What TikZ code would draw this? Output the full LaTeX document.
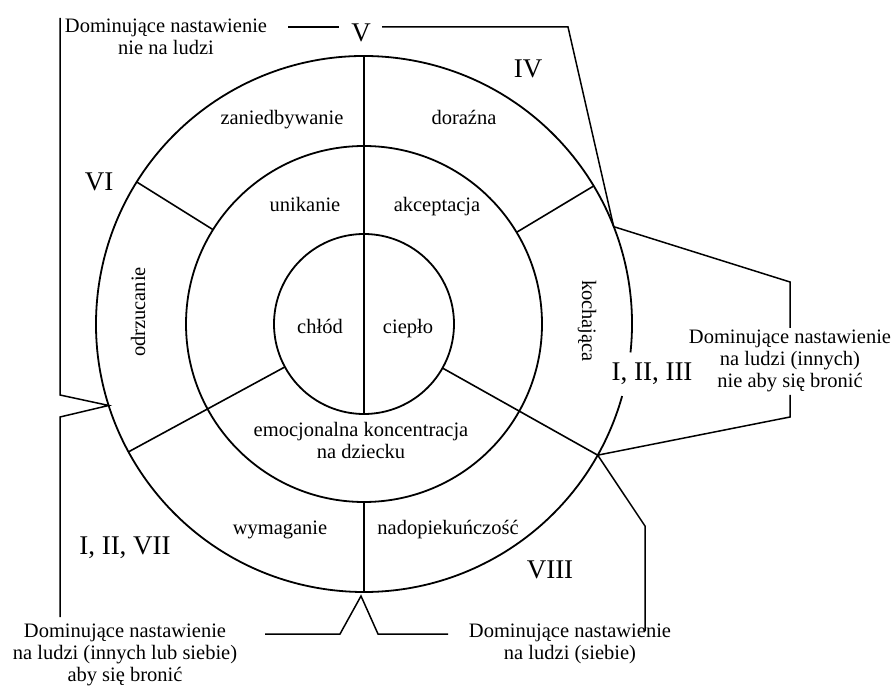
\documentclass[tikz,border=0pt]{standalone}
\usepackage{fontspec}
\setmainfont{Liberation Serif}
\usetikzlibrary{calc}
\begin{document}
\begin{tikzpicture}[x=1pt,y=1pt,
  ring/.style={line width=1.8pt},
  divider/.style={line width=1.6pt},
  bracket/.style={line width=1.5pt, line join=miter},
  lbl/.style={font=\fontsize{20.5}{22}\selectfont, inner sep=0pt, anchor=base},
  num/.style={font=\fontsize{27}{30}\selectfont, inner sep=0pt},
  note/.style={font=\fontsize{20.5}{22}\selectfont, align=center, inner sep=0pt}]
\useasboundingbox (0,0) rectangle (893,688);
\coordinate (C) at (364,364);
\def\rOut{268}
\def\rMid{178}
\def\rIn{90}

% rings (outer ring left open where the label I, II, III sits)
\draw[ring] ($(C)+(-6.1:\rOut)$) arc[start angle=-6.1, end angle=344.4, radius=\rOut];
\draw[ring] (C) circle[radius=\rMid];
\draw[ring] (C) circle[radius=\rIn];

% sector dividers
\draw[divider] ($(C)+(90:\rOut)$) -- ($(C)+(270:\rIn)$);
\draw[divider] ($(C)+(270:\rMid)$) -- ($(C)+(270:\rOut)$);
\draw[divider] ($(C)+(148:\rMid)$) -- ($(C)+(148:\rOut)$);
\draw[divider] ($(C)+(31:\rMid)$) -- ($(C)+(31:\rOut)$);
\draw[divider] ($(C)+(208.5:\rIn)$) -- ($(C)+(208.5:\rOut)$);
\draw[divider] ($(C)+(-29.3:\rIn)$) -- ($(C)+(-29.3:\rOut)$);

% points on the outer ring where the brackets meet it
\coordinate (pL) at ($(C)+(197.7:\rOut)$);
\coordinate (pR) at ($(C)+(21.3:\rOut)$);
\coordinate (pB) at ($(C)+(-29.3:\rOut)$);

% bracket corners
\coordinate (tlTop) at (60,670);
\coordinate (tlBot) at (60,293);
\coordinate (blTop) at (60,271);
\coordinate (blBot) at (60,71);
\coordinate (topA) at (288,661);
\coordinate (topB) at (339,661);
\coordinate (topC) at (382,661);
\coordinate (topD) at (568,661);
\coordinate (rA) at (790,406);
\coordinate (rB) at (790,360);
\coordinate (rC) at (790,293);
\coordinate (rD) at (790,271);
\coordinate (brA) at (645,162);
\coordinate (brB) at (645,57);
\coordinate (bA) at (265,54);
\coordinate (bB) at (340,54);
\coordinate (apex) at (361,92);
\coordinate (bC) at (378,54);
\coordinate (bD) at (448,54);

% brackets
\draw[bracket] (tlTop) -- (tlBot) -- (pL) -- (blTop) -- (blBot);
\draw[bracket] (topA) -- (topB);
\draw[bracket] (topC) -- (topD) -- (pR) -- (rA) -- (rB);
\draw[bracket] (rC) -- (rD) -- (pB) -- (brA) -- (brB);
\draw[bracket] (bA) -- (bB) -- (apex) -- (bC) -- (bD);

% inner circle
\node[lbl] (chlod) at (320,354) {chłód};
\node[lbl] (cieplo) at (408,354) {ciepło};

% middle ring
\node[lbl] (unik) at (305,476) {unikanie};
\node[lbl] (akc) at (437,476) {akceptacja};
\node[note] (emo) at (361,248) {emocjonalna koncentracja\\na dziecku};

% outer ring
\node[lbl] (zan) at (282,563) {zaniedbywanie};
\node[lbl] (dor) at (464,563) {doraźna};
\node[lbl, rotate=90, anchor=center] (odrz) at (138,376) {odrzucanie};
\node[lbl, rotate=-90, anchor=center] (koch) at (587,367) {kochająca};
\node[lbl] (wym) at (280,154) {wymaganie};
\node[lbl] (nad) at (448,154) {nadopiekuńczość};

% roman numerals
\node[num] (n5) at (361,655) {V};
\node[num] (n4) at (528,619) {IV};
\node[num] (n6) at (99,506) {VI};
\node[num, anchor=base] (n123) at (652,307) {I, II, III};
\node[num, anchor=base] (n127) at (125,134) {I, II, VII};
\node[num] (n8) at (550,118) {VIII};

% notes
\node[note] (tl) at (166,651) {Dominujące nastawienie\\nie na ludzi};
\node[note] (rt) at (790,327) {Dominujące nastawienie\\na ludzi (innych)\\nie aby się bronić};
\node[note] (bl) at (125,33) {Dominujące nastawienie\\na ludzi (innych lub siebie)\\aby się bronić};
\node[note] (br) at (570,44) {Dominujące nastawienie\\na ludzi (siebie)};
\end{tikzpicture}
\end{document}
